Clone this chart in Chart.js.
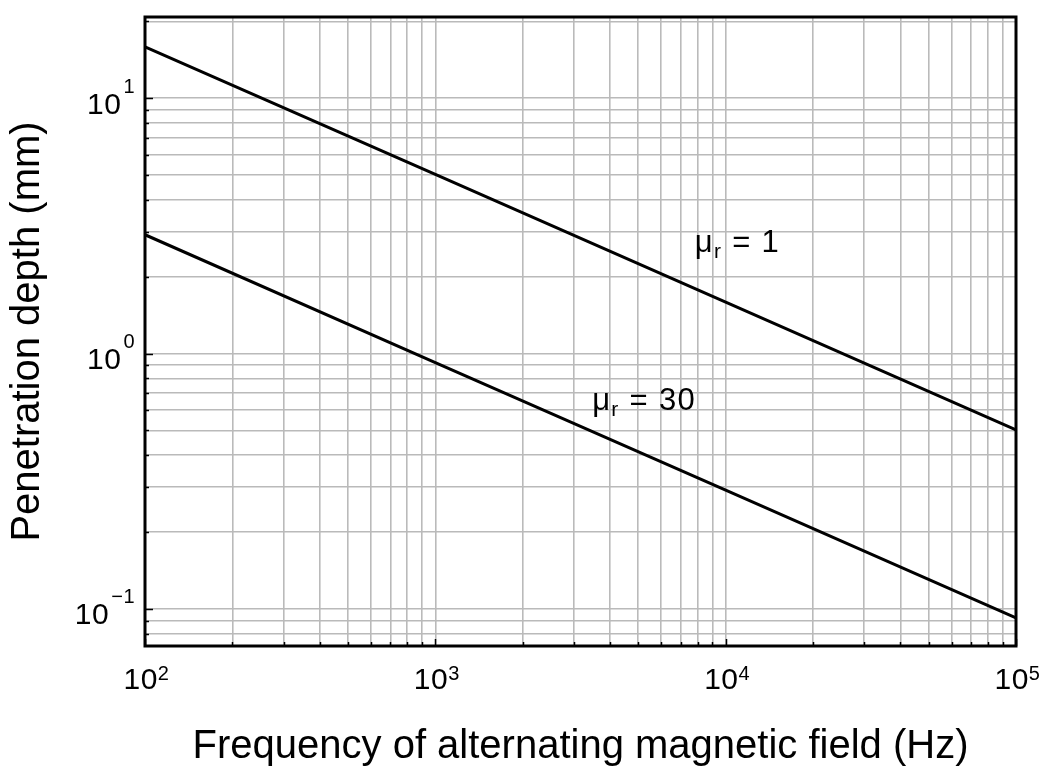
<!DOCTYPE html>
<html>
<head>
<meta charset="utf-8">
<title>Penetration depth vs. frequency</title>
<script src="https://cdn.jsdelivr.net/npm/chart.js@4/dist/chart.umd.min.js"></script>
<style>
  html, body { margin: 0; padding: 0; background: #fff; }
  #wrap { width: 1047px; height: 769px; position: relative; }
</style>
</head>
<body>
<div id="wrap"><canvas id="depthChart"></canvas></div>
<script>
// Penetration depth (mm) of an alternating field, for two relative permeabilities
const frequencies = [1e2, 1e3, 1e4, 1e5];
const depthMu1 = [15.9, 5.03, 1.59, 0.503];
const depthMu30 = [2.92, 0.922, 0.292, 0.0922];

// curve captions: mu_r value, and the (frequency, depth) where the caption starts
const captionValues = ['1', '30'];
const captionFreq = [7830, 3470];
const captionDepth = [2.49, 0.60];

// axis ranges and decade labels (10^n)
const xMin = 100, xMax = 1e5;
const yMin = 0.0716, yMax = 20.8;
const xDecades = [1e2, 1e3, 1e4, 1e5];
const xExponents = ['2', '3', '4', '5'];
const yDecades = [0.1, 1, 10];
const yExponents = ['\u22121', '0', '1'];
const mantissas = [1, 2, 3, 4, 5, 6, 7, 8, 9];

const FONT = "'Liberation Sans', Arial, Helvetica, sans-serif";

// 1..9 x 10^n ticks for a log axis, limited to [min, max]
function logTicks(min, max) {
    const ticks = [];
    for (let e = Math.floor(Math.log10(min)); e <= Math.ceil(Math.log10(max)); e++) {
        mantissas.forEach(m => {
            const v = +(m * Math.pow(10, e)).toPrecision(6);
            if (v >= min * 0.9999 && v <= max * 1.0001) ticks.push({ value: v });
        });
    }
    return ticks;
}

function isDecade(v) {
    const l = Math.log10(v);
    return Math.abs(l - Math.round(l)) < 1e-9;
}

// frame, inward ticks, 10^n labels and curve captions
const decorations = {
    id: 'decorations',
    afterDatasetsDraw(chart) {
        const { ctx, chartArea: a, scales: { x, y } } = chart;
        ctx.save();
        ctx.strokeStyle = '#000';
        ctx.lineWidth = 1.5;
        ctx.beginPath();
        x.ticks.forEach(t => {
            const px = Math.round(x.getPixelForValue(t.value)) + 0.5;
            const len = isDecade(t.value) ? 7 : 4;
            ctx.moveTo(px, a.bottom);
            ctx.lineTo(px, a.bottom - len);
        });
        y.ticks.forEach(t => {
            const py = Math.round(y.getPixelForValue(t.value)) + 0.5;
            const len = isDecade(t.value) ? 8 : 4;
            ctx.moveTo(a.left, py);
            ctx.lineTo(a.left + len, py);
        });
        ctx.stroke();
        ctx.lineWidth = 3;
        ctx.strokeRect(a.left, a.top, a.right - a.left, a.bottom - a.top);
        ctx.restore();
    },
    afterDraw(chart) {
        const { ctx, chartArea: a, scales: { x, y } } = chart;
        const baseFont = `30px ${FONT}`;
        const supFont = `20px ${FONT}`;
        ctx.save();
        ctx.fillStyle = '#000';
        ctx.textBaseline = 'alphabetic';
        ctx.letterSpacing = '0.5px';

        // y axis: right aligned, exponent raised above the base
        yDecades.forEach((v, i) => {
            const py = y.getPixelForValue(v);
            const right = a.left - 10;
            ctx.font = supFont;
            const supW = ctx.measureText(yExponents[i]).width;
            ctx.textAlign = 'left';
            ctx.fillText(yExponents[i], right - supW, py - 5.5);
            ctx.font = baseFont;
            ctx.textAlign = 'right';
            ctx.fillText('10', right - supW - 2, py + 15.5);
        });

        // x axis: centred under the grid line, exponent level with the top of the base
        xDecades.forEach((v, i) => {
            const px = x.getPixelForValue(v);
            ctx.font = baseFont;
            const baseW = ctx.measureText('10').width;
            ctx.font = supFont;
            const supW = ctx.measureText(xExponents[i]).width;
            const start = px - (baseW + 1 + supW) / 2 + 2;
            ctx.textAlign = 'left';
            ctx.font = baseFont;
            ctx.fillText('10', start, a.bottom + 43);
            ctx.font = supFont;
            ctx.fillText(xExponents[i], start + baseW, a.bottom + 34);
        });

        // mu_r = n captions
        ctx.letterSpacing = '1.3px';
        captionValues.forEach((val, i) => {
            let px = x.getPixelForValue(captionFreq[i]);
            const py = y.getPixelForValue(captionDepth[i]);
            ctx.textAlign = 'left';
            ctx.font = `31px ${FONT}`;
            ctx.fillText('\u03bc', px, py);
            px += ctx.measureText('\u03bc').width;
            ctx.font = `21px ${FONT}`;
            ctx.fillText('r', px, py + 6);
            px += ctx.measureText('r').width;
            ctx.font = `31px ${FONT}`;
            ctx.fillText(' = ' + val, px, py);
        });
        ctx.restore();
    }
};

const points = ys => frequencies.map((f, i) => ({ x: f, y: ys[i] }));

new Chart(document.getElementById('depthChart'), {
    type: 'scatter',
    data: {
        datasets: [
            {
                label: '\u03bcr = 1',
                data: points(depthMu1),
                showLine: true,
                borderColor: '#000',
                borderWidth: 3,
                pointRadius: 0
            },
            {
                label: '\u03bcr = 30',
                data: points(depthMu30),
                showLine: true,
                borderColor: '#000',
                borderWidth: 3,
                pointRadius: 0
            }
        ]
    },
    options: {
        responsive: true,
        maintainAspectRatio: false,
        animation: false,
        devicePixelRatio: 1,
        layout: { padding: { top: 17, right: 31, left: 0, bottom: 0 } },
        plugins: {
            legend: { display: false },
            tooltip: { enabled: false }
        },
        scales: {
            x: {
                type: 'logarithmic',
                position: 'bottom',
                min: xMin,
                max: xMax,
                afterBuildTicks: s => { s.ticks = logTicks(xMin, xMax); },
                afterFit: s => { s.height = 123; },
                ticks: { display: false },
                grid: { color: '#bababa', lineWidth: 1.6, drawTicks: false },
                border: { display: false },
                title: {
                    display: true,
                    text: 'Frequency of alternating magnetic field (Hz)',
                    color: '#000',
                    font: { family: FONT, size: 40, lineHeight: 1.08 },
                    padding: 0
                }
            },
            y: {
                type: 'logarithmic',
                position: 'left',
                min: yMin,
                max: yMax,
                afterBuildTicks: s => { s.ticks = logTicks(yMin, yMax); },
                afterFit: s => { s.width = 145; },
                ticks: { display: false },
                grid: { color: '#bababa', lineWidth: 1.6, drawTicks: false },
                border: { display: false },
                title: {
                    display: true,
                    text: 'Penetration depth (mm)',
                    color: '#000',
                    font: { family: FONT, size: 40, lineHeight: 1.2 },
                    padding: { top: 4, bottom: 0 }
                }
            }
        }
    },
    plugins: [decorations]
});
</script>
</body>
</html>
